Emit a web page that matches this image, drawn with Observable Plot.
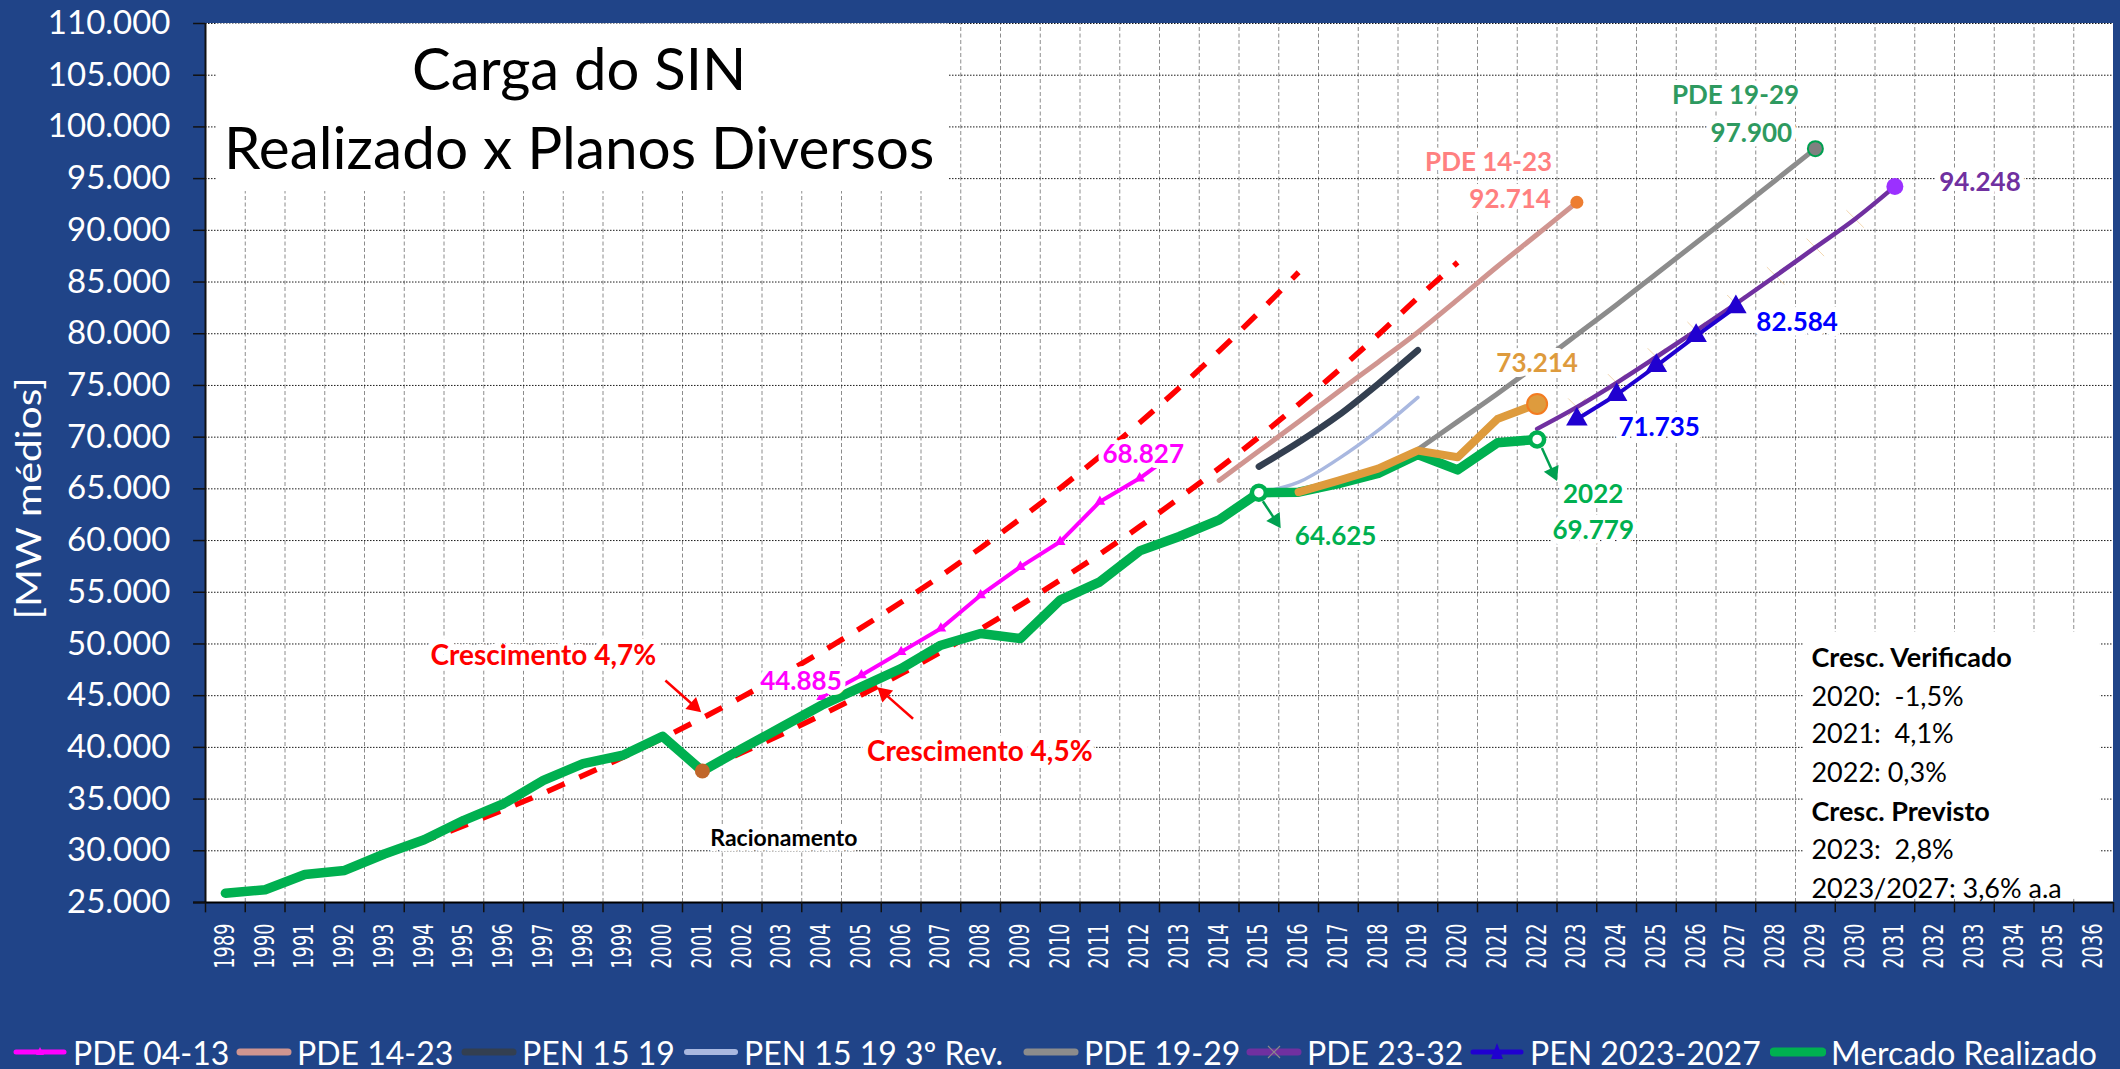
<!DOCTYPE html>
<html>
<head>
<meta charset="utf-8">
<script src="https://cdn.jsdelivr.net/npm/d3@7"></script>
<script src="https://cdn.jsdelivr.net/npm/@observablehq/plot@0.6"></script>
<style>
html, body { margin: 0; padding: 0; background: #204488; width: 2120px; height: 1069px; overflow: hidden; }
#chart svg { display: block; }
#legend { position: relative; height: 64px; font-family: Lato, "Open Sans", sans-serif; font-size: 32px; color: #fff; white-space: nowrap; }
#legend .item { position: absolute; top: 0; height: 64px; display: flex; align-items: center; }
#legend .item svg { margin-right: 5px; }
</style>
</head>
<body>
<div id="chart"></div>
<div id="legend"></div>
<script>
// ---------------- DATA ----------------
const xTickYears = [1989,1990,1991,1992,1993,1994,1995,1996,1997,1998,1999,2000,2001,2002,2003,2004,2005,2006,2007,2008,2009,2010,2011,2012,2013,2014,2015,2016,2017,2018,2019,2020,2021,2022,2023,2024,2025,2026,2027,2028,2029,2030,2031,2032,2033,2034,2035,2036];
const yTickValues = [25000,30000,35000,40000,45000,50000,55000,60000,65000,70000,75000,80000,85000,90000,95000,100000,105000,110000];

const mercadoYears  = [1989,1990,1991,1992,1993,1994,1995,1996,1997,1998,1999,2000,2001,2002,2003,2004,2005,2006,2007,2008,2009,2010,2011,2012,2013,2014,2015,2016,2017,2018,2019,2020,2021,2022];
const mercadoValues = [25900,26230,27710,28100,29690,31070,32950,34550,36810,38430,39240,41070,37710,39880,41975,44070,45850,47625,49880,51010,50530,54240,56010,59000,60400,62000,64625,64680,65500,66500,68320,66830,69450,69779];

const pde0413Years  = [2004,2005,2006,2007,2008,2009,2010,2011,2012,2013];
const pde0413Values = [44885,46980,49235,51500,54720,57460,59880,63760,66020,68827];

const pde1423Years  = [2014,2015,2016,2017,2018,2019,2020,2021,2022,2023];
const pde1423Values = [65810,68650,71500,74400,77250,80150,83300,86500,89600,92714];

const pen1519Years  = [2015,2016,2017,2018,2019];
const pen1519Values = [67150,69500,72100,75150,78400];

const pen1519RevYears  = [2015,2016,2017,2018,2019];
const pen1519RevValues = [64625,65650,67900,70650,73850];

const pde1929Years  = [2019,2020,2021,2022,2023,2024,2025,2026,2027,2028,2029];
const pde1929Values = [68800,71500,74200,77000,79900,82800,85800,88800,91800,94850,97900];

const pde2332Years  = [2022,2023,2024,2025,2026,2027,2028,2029,2030,2031];
const pde2332Values = [70800,72900,75250,77750,80300,82900,85600,88350,91100,94248];

const pen2327Years  = [2023,2024,2025,2026,2027];
const pen2327Values = [71735,74100,76900,79800,82584];

// thick orange series (not in legend), ends at 73.214 in 2022
const revisaoYears  = [2016,2017,2018,2019,2020,2021,2022];
const revisaoValues = [64680,65800,66950,68700,68050,71750,73214];

// red dashed growth trends
const cresc47Years  = [1993,1994,1995,1996,1997,1998,1999,2000,2001,2002,2003,2004,2005,2006,2007,2008,2009,2010,2011,2012,2013,2014,2015,2016];
const cresc47Values = [29550,30950,32430,33970,35580,37270,39040,40900,42840,44880,47010,49240,51580,54030,56600,59290,62110,65060,68150,71390,74780,78330,82050,85950];
const cresc45Years  = [2001,2002,2003,2004,2005,2006,2007,2008,2009,2010,2011,2012,2013,2014,2015,2016,2017,2018,2019,2020];
const cresc45Values = [37800,39500,41280,43140,45080,47110,49230,51440,53760,56180,58700,61350,64110,66990,70010,73160,76450,79890,83490,86900];

// ---------------- LAYOUT ----------------
const W = 2120, H = 1020;
const mL = 205, mR = 7, mT = 23, mB = 118;
const xDomain = [1988.5, 2036.5];
const yDomain = [25000, 110000];
const sx = d3.scaleLinear(xDomain, [mL, W - mR]);
const sy = d3.scaleLinear(yDomain, [H - mB, mT]);

const rowsOf = (years, values) => years.map((year, i) => ({year, value: values[i]}));
const mercado = rowsOf(mercadoYears, mercadoValues);
const pde0413 = rowsOf(pde0413Years, pde0413Values);
const pde1423 = rowsOf(pde1423Years, pde1423Values);
const pen1519 = rowsOf(pen1519Years, pen1519Values);
const pen1519Rev = rowsOf(pen1519RevYears, pen1519RevValues);
const pde1929 = rowsOf(pde1929Years, pde1929Values);
const pde2332 = rowsOf(pde2332Years, pde2332Values);
const pen2327 = rowsOf(pen2327Years, pen2327Values);
const revisao = rowsOf(revisaoYears, revisaoValues);
const cresc47 = rowsOf(cresc47Years, cresc47Values);
const cresc45 = rowsOf(cresc45Years, cresc45Values);

const last = a => a[a.length - 1];
const byYear = (rows, y) => rows.find(d => d.year === y);

const boundaries = xTickYears.slice(1).map(y => y - 0.5);
const allBoundaries = [xTickYears[0] - 0.5, ...boundaries, last(xTickYears) + 0.5];
const gridValues = yTickValues.slice(1);

const fmtBR = d3.formatLocale({decimal: ",", thousands: ".", grouping: [3], currency: ["R$ ", ""]}).format(",d");

// annotations (positions in data units)
const valueLabels = [
  {text: "68.827", x: 2012.09, y: 68320, color: "#FF00FF"},
  {text: "44.885", x: 2003.48, y: 46370, color: "#FF00FF"},
  {text: "64.625", x: 2016.93, y: 60390, color: "#00B050"},
  {text: "2022",   x: 2023.41, y: 64450, color: "#00B050"},
  {text: "69.779", x: 2023.41, y: 60970, color: "#00B050"},
  {text: "73.214", x: 2022.00, y: 77090, color: "#DE9B3D"},
  {text: "PDE 14-23", x: 2020.78, y: 96510, color: "#FF8080"},
  {text: "92.714", x: 2021.32, y: 92930, color: "#FF8080"},
  {text: "PDE 19-29", x: 2026.99, y: 103040, color: "#2E9A60"},
  {text: "97.900", x: 2027.39, y: 99330, color: "#2E9A60"},
  {text: "94.248", x: 2033.14, y: 94575, color: "#7030A0"},
  {text: "82.584", x: 2028.54, y: 81040, color: "#0000FF"},
  {text: "71.735", x: 2025.07, y: 70880, color: "#0000FF"}
];
const crescLabels = [
  {text: "Crescimento 4,7%", x: 1997.0, y: 48790},
  {text: "Crescimento 4,5%", x: 2007.98, y: 39530}
];
const arrows = [
  {x1: 2000.07, y1: 46467, x2: 2000.97, y2: 43400, color: "#FF0000"},
  {x1: 2006.30, y1: 42764, x2: 2005.40, y2: 45819, color: "#FF0000"},
  {x1: 2015.10, y1: 63800, x2: 2015.55, y2: 61200, color: "#00A050"},
  {x1: 2022.12, y1: 68950, x2: 2022.50, y2: 65750, color: "#00A050"}
];
const infoLines = [
  {text: "Cresc. Verificado", y: 48595, bold: true},
  {text: "2020:\u00a0 -1,5%", y: 44824},
  {text: "2021:\u00a0 4,1%", y: 41246},
  {text: "2022: 0,3%", y: 37474},
  {text: "Cresc. Previsto", y: 33703, bold: true},
  {text: "2023:\u00a0 2,8%", y: 30028},
  {text: "2023/2027: 3,6% a.a", y: 26257}
];

// arrow geometry (shaft + filled head)
const headR = 6;
const apex = 2 * Math.sqrt(Math.PI * headR * headR / (3 * Math.sqrt(3)));
const arrowGeo = arrows.map(a => {
  const X1 = sx(a.x1), Y1 = sy(a.y1), X2 = sx(a.x2), Y2 = sy(a.y2);
  const dx = X2 - X1, dy = Y2 - Y1, len = Math.hypot(dx, dy);
  const ux = dx / len, uy = dy / len;
  return {
    x1: a.x1, y1: a.y1,
    x2: sx.invert(X2 - ux * apex * 1.2), y2: sy.invert(Y2 - uy * apex * 1.2),
    hx: sx.invert(X2 - ux * apex), hy: sy.invert(Y2 - uy * apex),
    angle: Math.atan2(ux, -uy) * 180 / Math.PI,
    color: a.color
  };
});

const lineOpts = {x: "year", y: "value", strokeLinejoin: "round", strokeLinecap: "round"};
const font = "Lato, 'Open Sans', sans-serif";

const chart = Plot.plot({
  width: W, height: H,
  marginLeft: mL, marginRight: mR, marginTop: mT, marginBottom: mB,
  style: {background: "transparent", overflow: "visible", fontFamily: font},
  x: {type: "linear", domain: xDomain},
  y: {type: "linear", domain: yDomain},
  color: {type: "identity"},
  marks: [
    // plot area
    Plot.rect([0], {x1: xDomain[0], x2: xDomain[1], y1: yDomain[0], y2: yDomain[1], fill: "white"}),
    Plot.ruleX(boundaries, {y1: yDomain[0], y2: yDomain[1], stroke: "#8c8c8c", strokeWidth: 1, strokeDasharray: "4,2.5"}),
    Plot.ruleY(gridValues, {x1: xDomain[0], x2: xDomain[1], stroke: "#1a1a1a", strokeWidth: 1, strokeDasharray: "1.5,1.5"}),
    // text boxes
    Plot.rect([0], {x1: 1988.8, x2: 2007.2, y1: 93750, y2: 109950, fill: "white"}),
    Plot.rect([0], {x1: 2028.7, x2: 2036.17, y1: 25300, y2: 51110, fill: "white"}),
    // frame and ticks
    Plot.ruleX([xDomain[0]], {y1: yDomain[0], y2: yDomain[1], stroke: "#111", strokeWidth: 2}),
    Plot.ruleY([yDomain[0]], {x1: 1988.2, x2: xDomain[1], stroke: "#000", strokeWidth: 2}),
    Plot.ruleY(yTickValues, {x1: 1988.2, x2: xDomain[0], stroke: "#111", strokeWidth: 1.5}),
    Plot.ruleX(allBoundaries, {y1: yDomain[0], y2: 24000, stroke: "#111", strokeWidth: 1.5}),
    Plot.axisY({ticks: yTickValues, tickFormat: fmtBR, tickSize: 0, tickPadding: 35, fontSize: 33, fontFamily: font, color: "white", label: null}),
    Plot.axisX({ticks: xTickYears, tickFormat: d => String(d), tickSize: 0, tickPadding: 21, tickRotate: -90, fontSize: 26.5, fontFamily: "'DejaVu Sans', Verdana, sans-serif", color: "white", label: null}),
    // growth trends
    Plot.line(cresc47, {...lineOpts, stroke: "#FF0000", strokeWidth: 5.5, strokeDasharray: "19,16", strokeLinecap: "butt", curve: "catmull-rom"}),
    Plot.line(cresc45, {...lineOpts, stroke: "#FF0000", strokeWidth: 5.5, strokeDasharray: "19,16", strokeLinecap: "butt", curve: "catmull-rom"}),
    // plans
    Plot.line(pde0413, {...lineOpts, stroke: "#FF00FF", strokeWidth: 4}),
    Plot.dot(pde0413, {x: "year", y: "value", symbol: "triangle", r: 4, fill: "#FF00FF"}),
    Plot.line(pde1423, {...lineOpts, stroke: "#D09590", strokeWidth: 5, curve: "catmull-rom"}),
    Plot.line(pen1519, {...lineOpts, stroke: "#333F50", strokeWidth: 6.5, curve: "catmull-rom"}),
    Plot.line(pen1519Rev, {...lineOpts, stroke: "#A9B8E0", strokeWidth: 3.5, curve: "catmull-rom"}),
    Plot.line(pde1929, {...lineOpts, stroke: "#8C8C8C", strokeWidth: 5, curve: "catmull-rom"}),
    Plot.dot(pde2332.slice(1, -1), {x: "year", y: "value", symbol: "times", r: 8, stroke: "#EBC48E", strokeWidth: 1, strokeOpacity: 0.7}),
    Plot.line(pde2332, {...lineOpts, stroke: "#7030A0", strokeWidth: 4.5, curve: "catmull-rom"}),
    Plot.line(pen2327, {...lineOpts, stroke: "#2000D0", strokeWidth: 4}),
    Plot.dot(pen2327, {x: "year", y: "value", symbol: "triangle", r: 8, fill: "#2000D0"}),
    Plot.line(mercado, {...lineOpts, stroke: "#00B050", strokeWidth: 9.5}),
    Plot.line(revisao, {...lineOpts, stroke: "#DE9B3D", strokeWidth: 8}),
    // end markers
    Plot.dot([last(pde1423)], {x: "year", y: "value", r: 6.5, fill: "#ED7D31"}),
    Plot.dot([last(pde1929)], {x: "year", y: "value", r: 7.5, fill: "#808080", stroke: "#00A050", strokeWidth: 2}),
    Plot.dot([last(pde2332)], {x: "year", y: "value", r: 8.5, fill: "#9B30FF"}),
    Plot.dot([last(revisao)], {x: "year", y: "value", r: 10, fill: "#DE9B3D", stroke: "#F47B20", strokeWidth: 2}),
    Plot.dot([byYear(mercado, 2001)], {x: "year", y: "value", r: 7.5, fill: "#C0662A"}),
    Plot.dot([byYear(mercado, 2015), byYear(mercado, 2022)], {x: "year", y: "value", r: 7, fill: "white", stroke: "#00B050", strokeWidth: 4.5}),
    // arrows
    Plot.link(arrowGeo, {x1: "x1", y1: "y1", x2: "x2", y2: "y2", stroke: "color", strokeWidth: 2.5}),
    Plot.dot(arrowGeo, {x: "hx", y: "hy", symbol: "triangle", r: headR, fill: "color", rotate: "angle"}),
    // labels
    Plot.text(valueLabels, {x: "x", y: "y", text: "text", fill: "color", fontSize: 26, fontWeight: "bold", fontFamily: font, stroke: "white", strokeWidth: 10, strokeLinejoin: "round", paintOrder: "stroke"}),
    Plot.text(crescLabels, {x: "x", y: "y", text: "text", fill: "#FF0000", fontSize: 28, fontWeight: "bold", fontFamily: font, stroke: "white", strokeWidth: 12, strokeLinejoin: "round", paintOrder: "stroke"}),
    Plot.text(["Racionamento"], {x: 2001.2, y: 31190, text: d => d, textAnchor: "start", fill: "black", fontSize: 23, fontWeight: "bold", fontFamily: font, stroke: "white", strokeWidth: 10, strokeLinejoin: "round", paintOrder: "stroke"}),
    // title
    Plot.text(["Carga do SIN"], {x: 1997.9, y: 105377, text: d => d, fill: "black", fontSize: 58, fontFamily: font}),
    Plot.text(["Realizado x Planos Diversos"], {x: 1997.9, y: 97718, text: d => d, fill: "black", fontSize: 58.5, fontFamily: font}),
    // growth box
    Plot.text(infoLines.filter(d => d.bold), {x: 2028.9, y: "y", text: "text", textAnchor: "start", fill: "black", fontSize: 27, fontWeight: "bold", fontFamily: font}),
    Plot.text(infoLines.filter(d => !d.bold), {x: 2028.9, y: "y", text: "text", textAnchor: "start", fill: "black", fontSize: 27, fontFamily: font}),
    // y axis title
    Plot.text(["[MW médios]"], {x: 1984.1, y: 64070, text: d => d, rotate: -90, fill: "white", fontSize: 34, fontFamily: font})
  ]
});
document.getElementById("chart").appendChild(chart);

// condense rotated texts along their baseline (narrow font look of the original)
function condense(textEl, k) {
  const t = textEl.getAttribute("transform");
  if (t) textEl.setAttribute("transform", t + ` scale(${k},1)`);
}
d3.select(chart).selectAll('g[aria-label="x-axis tick label"] text').each(function() { condense(this, 0.67); });
d3.select(chart).selectAll("text").each(function() { if (this.textContent === "[MW médios]") condense(this, 1.2); });

// ---------------- LEGEND ----------------
const legendItems = [
  {name: "PDE 04-13", color: "#FF00FF", width: 5, marker: "tri-small", left: 73},
  {name: "PDE 14-23", color: "#D09590", width: 7, left: 297},
  {name: "PEN 15 19", color: "#333F50", width: 7, left: 522},
  {name: "PEN 15 19 3º Rev.", color: "#A9B8E0", width: 6, left: 744},
  {name: "PDE 19-29", color: "#8C8C8C", width: 7, left: 1084},
  {name: "PDE 23-32", color: "#7030A0", width: 7, marker: "x", left: 1307},
  {name: "PEN 2023-2027", color: "#2000D0", width: 5, marker: "triangle", left: 1530},
  {name: "Mercado Realizado", color: "#00B050", width: 9, left: 1831}
];
const legend = document.getElementById("legend");
for (const it of legendItems) {
  const item = document.createElement("div");
  item.className = "item";
  item.style.left = (it.left - 61) + "px";
  let marker = "";
  if (it.marker === "tri-small") marker = `<path d="M28,5 L32,13 L24,13 Z" fill="${it.color}"/>`;
  if (it.marker === "triangle") marker = `<path d="M28,1 L34,17 L22,17 Z" fill="${it.color}"/>`;
  if (it.marker === "x") marker = `<path d="M22,4 L34,16 M34,4 L22,16" stroke="#8a8a8a" stroke-width="1.2"/>`;
  item.innerHTML = `<svg width="56" height="20"><line x1="4" y1="10" x2="52" y2="10" stroke="${it.color}" stroke-width="${it.width}" stroke-linecap="round"/>${marker}</svg><span>${it.name}</span>`;
  legend.appendChild(item);
}
</script>
</body>
</html>
